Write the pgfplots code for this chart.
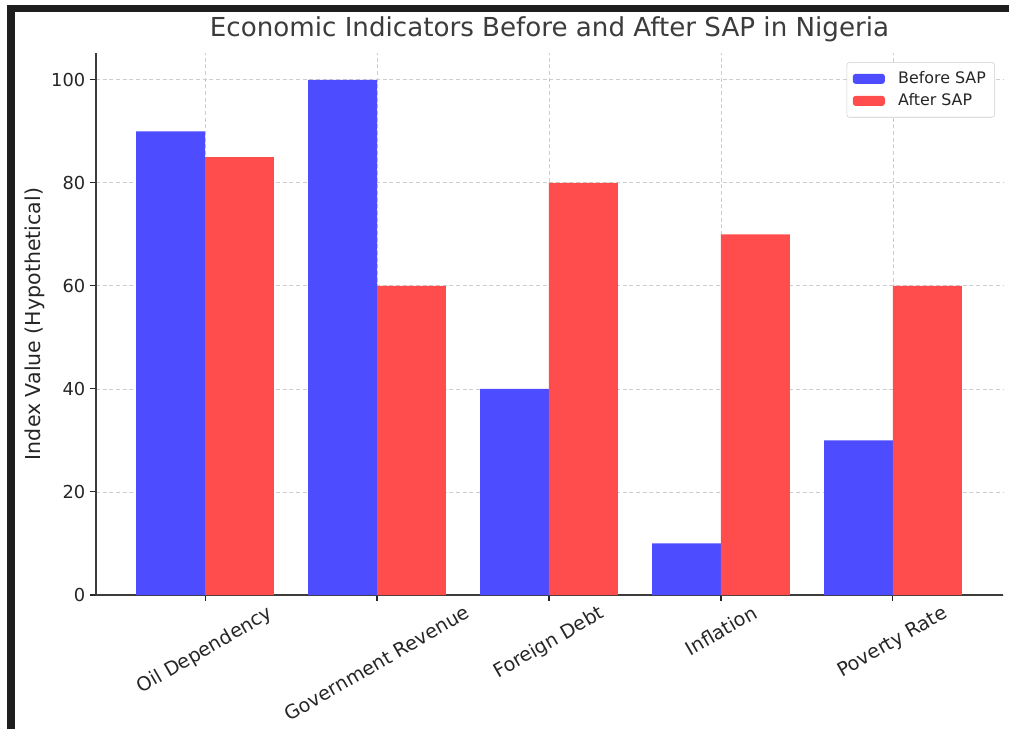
\documentclass[border=0pt]{standalone}
\usepackage{pgfplots}
\pgfplotsset{compat=1.18}
\usepackage{fontspec}
\setmainfont{DejaVu Sans}
\definecolor{barblue}{RGB}{77,77,255}
\definecolor{barred}{RGB}{255,77,77}
\definecolor{txt}{RGB}{38,38,38}
\definecolor{framec}{RGB}{30,30,30}
\definecolor{gridc}{RGB}{205,205,205}
\begin{document}
\begin{tikzpicture}
\useasboundingbox (0,0) rectangle (756.75pt,546.75pt);
\fill[framec] (5.25pt,0pt) rectangle (11.25pt,543pt);
\fill[framec] (5.25pt,537.75pt) rectangle (756.75pt,543pt);
\begin{axis}[
  at={(72pt,100.5pt)}, anchor=south west,
  scale only axis, width=680.25pt, height=406.5pt,
  xmin=-0.634, xmax=4.64, ymin=0, ymax=105.2,
  ybar, bar width=51.6pt,
  axis x line*=bottom, axis y line*=left,
  axis line style={draw=txt!90, line width=0.9pt},
  xtick={0,1,2,3,4},
  xticklabels={\rotatebox{30}{Oil Dependency},\rotatebox{30}{Government Revenue},\rotatebox{30}{Foreign Debt},\rotatebox{30}{Inflation},\rotatebox{30}{Poverty Rate}},
  ytick={0,20,40,60,80,100},
  tick align=outside, major tick length=4.5pt,
  tick style={draw=txt, line width=0.8pt},
  ticklabel style={font=\fontsize{13.4}{16}\selectfont, text=txt},
  xticklabel style={font=\fontsize{14.4}{17}\selectfont, anchor=north, yshift=1pt},
  /pgf/number format/assume math mode=true,
  grid=major, major grid style={gridc, dash pattern=on 3pt off 2pt, line width=0.6pt},
  ylabel={Index Value (Hypothetical)},
  ylabel style={font=\fontsize{15.4}{18}\selectfont, text=txt, at={(axis description cs:-0.067,0.5)}, anchor=center},
  title={Economic Indicators Before and After SAP in Nigeria},
  title style={font=\fontsize{19.6}{23}\selectfont, text=txt!90, at={(axis description cs:0.5,1.0)}, anchor=base, yshift=6pt},
  legend style={at={(0.991,0.983)}, anchor=north east, draw=gridc, rounded corners=2pt,
    font=\fontsize{11.9}{14}\selectfont, text=txt, row sep=2pt, inner xsep=4.5pt, inner ysep=5pt},
  legend cell align=left,
  legend image code/.code={\fill[#1] (0pt,-3.75pt) rectangle (24pt,3.75pt);},
  /tikz/every odd column/.append style={column sep=8pt},
]
\addplot[fill=barblue, draw=none, bar shift=-25.8pt] coordinates {(0,90) (1,100) (2,40) (3,10) (4,30)};
\addplot[fill=barred, draw=none, bar shift=25.8pt] coordinates {(0,85) (1,60) (2,80) (3,70) (4,60)};
\legend{Before SAP, After SAP}
\end{axis}
\end{tikzpicture}
\end{document}
